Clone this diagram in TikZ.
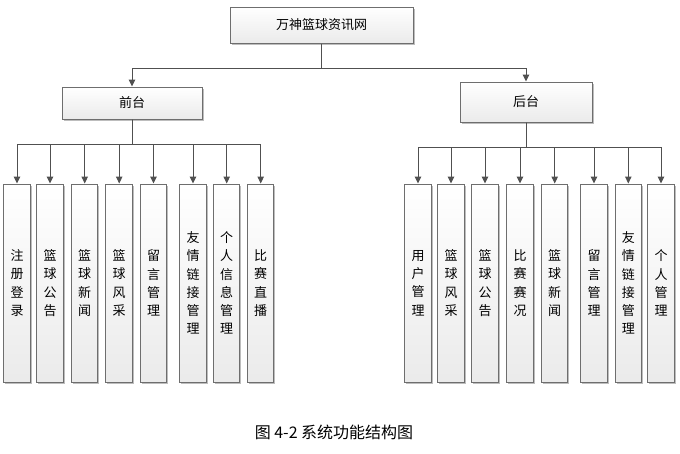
\documentclass[tikz,border=0pt]{standalone}
\usepackage{fontspec}
\setmainfont{Noto Sans CJK SC}
\usepackage{tikz}
\usepackage{xcolor}
\usetikzlibrary{arrows.meta,shadows}

\definecolor{linegray}{HTML}{505050}
\definecolor{boxgray}{HTML}{6E6E6E}

\tikzset{
  box/.style={draw=boxgray, line width=1pt, top color=white, bottom color=gray!16,
    drop shadow={shadow xshift=1.5pt, shadow yshift=-1.5pt, fill=gray!60, opacity=.85},
    font=\fontsize{13}{16}\selectfont, inner sep=0pt},
  sub/.style={box, minimum width=26.5pt, minimum height=198pt, text width=14pt,
    align=center, font=\fontsize{13}{18.3}\selectfont},
  link/.style={draw=linegray, line width=1pt, ->},
}

\begin{document}
\begin{tikzpicture}[x=1pt, y=-1pt, >={Triangle[length=7pt,width=6.5pt]}]
  \useasboundingbox (0,0) rectangle (680,453);
  % top levels
  \node[box, minimum width=183pt, minimum height=36pt] (root) at (321.5,25) {万神篮球资讯网};
  \node[box, minimum width=140pt, minimum height=32pt] (front) at (132,103) {前台};
  \node[box, minimum width=132pt, minimum height=40pt] (back) at (526,102) {后台};
  \draw[link] (root.south) -- ++(0,25) -| (front.north);
  \draw[link] (root.south) -- ++(0,25) -| (back.north);
  % front modules
  \node[sub] (f1) at (17,283) {注\\册\\登\\录};
  \node[sub] (f2) at (50,283) {篮\\球\\公\\告};
  \node[sub] (f3) at (84.7,283) {篮\\球\\新\\闻};
  \node[sub] (f4) at (119.2,283) {篮\\球\\风\\采};
  \node[sub] (f5) at (153.5,283) {留\\言\\管\\理};
  \node[sub] (f6) at (193,283) {友\\情\\链\\接\\管\\理};
  \node[sub] (f7) at (226.7,283) {个\\人\\信\\息\\管\\理};
  \node[sub] (f8) at (260.7,283) {比\\赛\\直\\播};
  \draw[link] (front.south) -- ++(0,25) -| (f1.north);
  \draw[link] (front.south) -- ++(0,25) -| (f2.north);
  \draw[link] (front.south) -- ++(0,25) -| (f3.north);
  \draw[link] (front.south) -- ++(0,25) -| (f4.north);
  \draw[link] (front.south) -- ++(0,25) -| (f5.north);
  \draw[link] (front.south) -- ++(0,25) -| (f6.north);
  \draw[link] (front.south) -- ++(0,25) -| (f7.north);
  \draw[link] (front.south) -- ++(0,25) -| (f8.north);
  % back modules
  \node[sub] (b1) at (418,283) {用\\户\\管\\理};
  \node[sub] (b2) at (451,283) {篮\\球\\风\\采};
  \node[sub] (b3) at (485,283) {篮\\球\\公\\告};
  \node[sub] (b4) at (520,283) {比\\赛\\赛\\况};
  \node[sub] (b5) at (554.7,283) {篮\\球\\新\\闻};
  \node[sub] (b6) at (594,283) {留\\言\\管\\理};
  \node[sub] (b7) at (628.3,283) {友\\情\\链\\接\\管\\理};
  \node[sub] (b8) at (661,283) {个\\人\\管\\理};
  \draw[link] (back.south) -- ++(0,25) -| (b1.north);
  \draw[link] (back.south) -- ++(0,25) -| (b2.north);
  \draw[link] (back.south) -- ++(0,25) -| (b3.north);
  \draw[link] (back.south) -- ++(0,25) -| (b4.north);
  \draw[link] (back.south) -- ++(0,25) -| (b5.north);
  \draw[link] (back.south) -- ++(0,25) -| (b6.north);
  \draw[link] (back.south) -- ++(0,25) -| (b7.north);
  \draw[link] (back.south) -- ++(0,25) -| (b8.north);
  % caption
  \node[font=\fontsize{16}{18}\selectfont] (cap) at (334,432) {图 4-2 系统功能结构图};
\end{tikzpicture}
\end{document}
